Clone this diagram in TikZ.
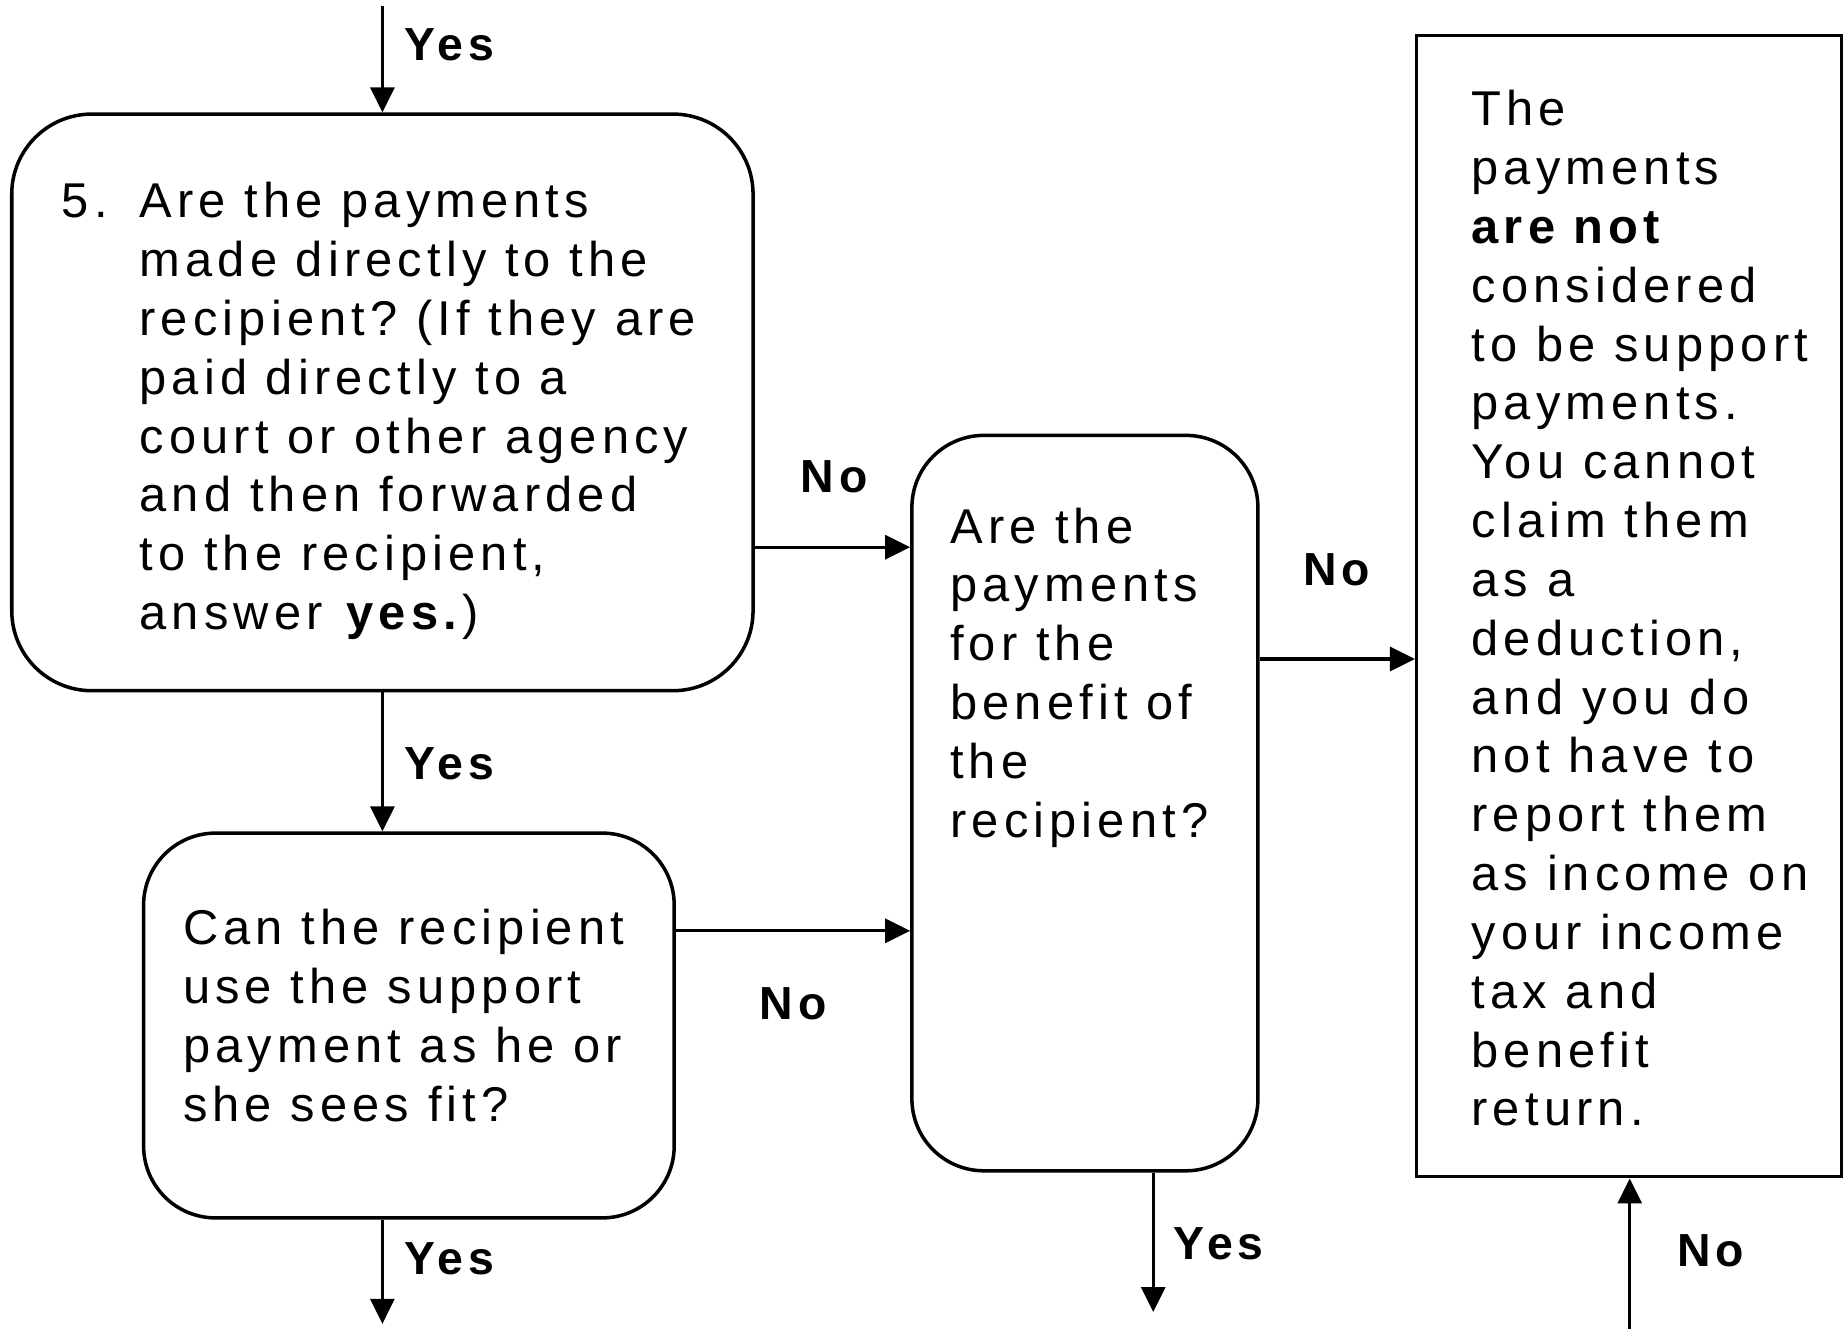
\documentclass[tikz,border=0pt]{standalone}
\usepackage{fontspec}
\setmainfont[LetterSpace=10.5]{Liberation Sans}
\usetikzlibrary{arrows.meta}
\newcommand{\qpad}{\hspace*{0.777cm}}
\frenchspacing

\begin{document}
\begin{tikzpicture}[every node/.style={align=left},
  qbox/.style={draw,line width=1pt,rounded corners=0.72cm},
  flow/.style={line width=0.9pt,-{Triangle[length=2.5mm,width=2.4mm]}},
  ans/.style={font=\fontsize{13.2}{15}\selectfont\bfseries,anchor=west,inner sep=0pt},
  body/.style={font=\fontsize{13.9}{16.74}\selectfont,anchor=west,inner sep=0pt}]
  \useasboundingbox (0,0) rectangle (18.45,-13.29);
  % The four boxes, sized to the page.
  \node[qbox,rounded corners=0.8cm,minimum width=7.413cm,minimum height=5.766cm] (q5) at (3.824,-4.024) {};
  \node[qbox,minimum width=5.306cm,minimum height=3.848cm] (q4) at (4.089,-10.255) {};
  \node[qbox,minimum width=3.46cm,minimum height=7.354cm] (q3) at (10.849,-8.031) {};
  \node[draw,line width=1pt,minimum width=4.248cm,minimum height=11.414cm] (res) at (16.291,-6.06) {};
  % Question texts.
  \node[body] (q5txt) at (0.612,-4.11) {\makebox[0.777cm][l]{5.}Are the payments\\
    \qpad made directly to the\\ \qpad recipient? (If they are\\ \qpad paid directly to a\\
    \qpad court or other agency\\ \qpad and then forwarded\\ \qpad to the recipient,\\
    \qpad answer \textbf{yes.})};
  \node[body] (q4txt) at (1.824,-10.155) {Can the recipient\\use the support\\payment as he or\\she sees fit?};
  \node[body] (q3txt) at (9.496,-6.776) {Are the\\payments\\for the\\benefit of\\the\\recipient?};
  \node[body] (restxt) at (14.709,-6.084) {The\\payments\\\textbf{are not}\\considered\\to be support\\payments.\\
    You cannot\\claim them\\as a\\deduction,\\and you do\\not have to\\report them\\as income on\\
    your income\\tax and\\benefit\\return.};
  % Loose ends of the flow.
  \coordinate (in5) at (3.824,-0.059);
  \coordinate (out4) at (3.824,-13.238);
  \coordinate (out3) at (11.532,-13.12);
  \coordinate (in6) at (16.297,-13.29);
  % Connectors.
  \draw[flow] (in5) -- (q5.north);
  \draw[flow] (q5.south) -- (q5.south |- q4.north);
  \draw[flow] (out4 |- q4.south) -- (out4);
  \draw[flow] ([yshift=-1.448cm]q5.east) -- ([yshift=-1.448cm]q5.east -| q3.west);
  \draw[flow] ([yshift=0.947cm]q4.east) -- ([yshift=0.947cm]q4.east -| q3.west);
  \draw[flow] ([yshift=1.441cm]q3.east) -- ([yshift=1.441cm]q3.east -| res.west);
  \draw[flow] (out3 |- q3.south) -- (out3);
  \draw[flow] (in6) -- (in6 |- res.south);
  % Answers.
  \node[ans] (y1) at (4.036,-0.447) {Yes};
  \node[ans] (n1) at (8.002,-4.766) {No};
  \node[ans] (y2) at (4.036,-7.637) {Yes};
  \node[ans] (n2) at (7.59,-10.037) {No};
  \node[ans] (y3) at (4.036,-12.591) {Yes};
  \node[ans] (n3) at (13.026,-5.695) {No};
  \node[ans] (y4) at (11.732,-12.438) {Yes};
  \node[ans] (n4) at (16.768,-12.508) {No};
\end{tikzpicture}
\end{document}
